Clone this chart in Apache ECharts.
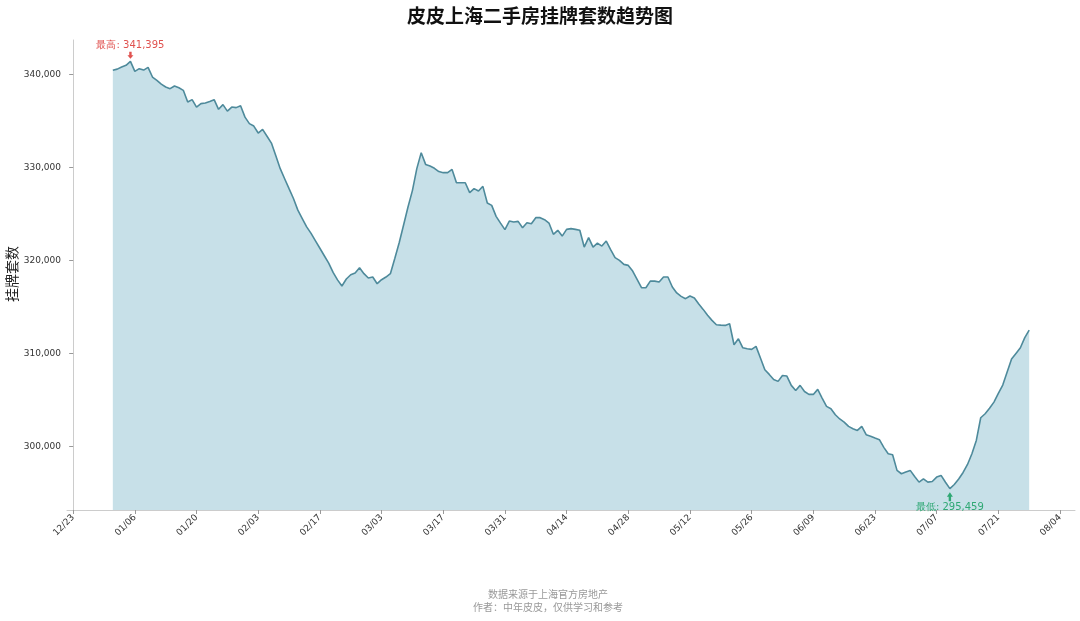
<!DOCTYPE html>
<html><head><meta charset="utf-8">
<script src="https://cdn.jsdelivr.net/npm/echarts@6/dist/echarts.min.js"></script>
<style>html,body{margin:0;padding:0;background:#fff}#c{width:1080px;height:621px}</style>
</head><body><div id="c"></div>
<script>
// ---- data ----
const startDate = '2025-01-01';
const listings = [
340430,340560,340790,340970,341395,340320,340610,340460,340750,339710,
339350,338950,338640,338460,338750,338560,338280,337020,337280,336480,
336850,336920,337080,337280,336240,336740,336050,336480,336420,336630,
335400,334700,334440,333690,334090,333350,332610,331250,329860,328780,
327710,326650,325400,324500,323600,322900,322100,321300,320500,319700,
318700,317900,317240,318000,318450,318640,319210,318570,318100,318210,
317490,317920,318210,318570,320200,321900,323800,325740,327500,329860,
331580,330320,330140,329900,329550,329430,329430,329780,328350,328350,
328350,327280,327710,327450,327960,326160,325910,324730,324000,323300,
324230,324120,324190,323510,324050,323940,324590,324590,324370,324010,
322800,323230,322610,323330,323410,323330,323230,321430,322440,321430,
321860,321540,322080,321150,320290,320000,319570,319460,318850,317950,
317060,317060,317770,317770,317670,318210,318210,317140,316500,316130,
315880,316170,315950,315300,314730,314100,313550,313080,313040,313010,
313190,310930,311570,310600,310500,310430,310750,309500,308240,307740,
307200,306990,307630,307560,306560,306020,306560,305900,305590,305590,
306130,305200,304300,304050,303400,302950,302610,302150,301900,301720,
302150,301260,301100,300900,300720,299900,299210,299100,297420,297060,
297250,297420,296770,296160,296520,296160,296230,296700,296880,296150,
295459,295900,296500,297200,298060,299210,300640,303080,303510,304100,
304760,305700,306600,307990,309400,310000,310600,311700,312500
];
const xTickDates = ['2024-12-23','2025-01-06','2025-01-20','2025-02-03','2025-02-17','2025-03-03',
  '2025-03-17','2025-03-31','2025-04-14','2025-04-28','2025-05-12','2025-05-26','2025-06-09',
  '2025-06-23','2025-07-07','2025-07-21','2025-08-04'];
const yTickValues = [300000, 310000, 320000, 330000, 340000];
const titleText = '皮皮上海二手房挂牌套数趋势图';
const yName = '挂牌套数';
const footerLines = ['数据来源于上海官方房地产', '作者：中年皮皮，仅供学习和参考'];

// ---- helpers ----
const DAY = 86400000;
const epoch = Date.UTC(2024, 11, 23);
function dayNum(s) { const p = s.split('-').map(Number); return (Date.UTC(p[0], p[1]-1, p[2]) - epoch) / DAY; }
function fmtDay(d) { const t = new Date(epoch + Math.round(d) * DAY); return String(t.getUTCMonth()+1).padStart(2,'0') + '/' + String(t.getUTCDate()).padStart(2,'0'); }
const d0 = dayNum(startDate);
const seriesData = listings.map((v, i) => [d0 + i, v]);
const xTicks = xTickDates.map(dayNum);
const xFirst = d0, xLast = d0 + listings.length - 1;
const xPad = (xLast - xFirst) * 0.05;
const yMinV = Math.min(...listings), yMaxV = Math.max(...listings);
const yPad = (yMaxV - yMinV) * 0.05;
const fmtNum = v => Math.round(v).toLocaleString('en-US');

const chart = echarts.init(document.getElementById('c'), null, {renderer: 'canvas'});
chart.setOption({
  backgroundColor: '#fff',
  animation: false,
  title: {
    text: titleText, left: 'center', top: 1,
    textStyle: {fontSize: 19, fontWeight: 'bold', color: '#111', fontFamily: 'Noto Sans CJK SC'}
  },
  graphic: [{
    type: 'text', x: 548, y: 588,
    style: {text: footerLines.join('\n'), fill: '#999', fontSize: 10, lineHeight: 13, align: 'center', fontFamily: 'Noto Sans CJK SC'}
  }, {
    type: 'text', x: 12, y: 274, rotation: Math.PI / 2,
    style: {text: yName, fill: '#222', fontSize: 14, align: 'center', verticalAlign: 'middle', fontFamily: 'Noto Sans CJK SC'}
  }],
  grid: {left: 67, right: 5, top: 40, bottom: 111, containLabel: false, outerBoundsMode: 'none'},
  xAxis: {
    type: 'value', min: xFirst - xPad, max: xLast + xPad,
    axisLine: {show: true, lineStyle: {color: '#ccc', width: 1}},
    axisTick: {show: true, customValues: xTicks, length: 4, lineStyle: {color: '#999'}},
    axisLabel: {customValues: xTicks, formatter: v => fmtDay(v), rotate: 45, fontSize: 9, color: '#333', margin: 6, fontFamily: 'DejaVu Sans'},
    splitLine: {show: false}
  },
  yAxis: {
    type: 'value', min: yMinV - yPad, max: yMaxV + yPad,
    axisLine: {show: true, lineStyle: {color: '#ccc', width: 1}},
    axisTick: {show: true, customValues: yTickValues, length: 4, lineStyle: {color: '#999'}},
    axisLabel: {customValues: yTickValues, formatter: v => fmtNum(v), fontSize: 9, color: '#333', margin: 6, fontFamily: 'DejaVu Sans'},
    splitLine: {show: false}
  },
  series: [{
    type: 'line', data: seriesData, showSymbol: false, smooth: false,
    lineStyle: {color: '#4e8a9b', width: 1.6},
    areaStyle: {color: '#c7e0e8', opacity: 1},
    markPoint: {
      animation: false,
      data: [
        {type: 'max', valueDim: 'y', symbol: 'path://M3,0 L7,0 L7,6 L10,6 L5,12 L0,6 L3,6 Z', symbolSize: [6, 7], symbolOffset: [0, -6],
         itemStyle: {color: '#e0524f'},
         label: {show: true, position: 'top', distance: 1, color: '#e0524f', fontSize: 10, fontFamily: 'DejaVu Sans', formatter: p => '最高: ' + fmtNum(p.value)}},
        {type: 'min', valueDim: 'y', symbol: 'path://M5,0 L10,6 L7,6 L7,12 L3,12 L3,6 L0,6 Z', symbolSize: [6, 9], symbolOffset: [0, 8],
         itemStyle: {color: '#2fa874'},
         label: {show: true, position: 'bottom', distance: 1, color: '#2fa874', fontSize: 10, fontFamily: 'DejaVu Sans', formatter: p => '最低: ' + fmtNum(p.value)}}
      ]
    }
  }]
});
</script></body></html>
